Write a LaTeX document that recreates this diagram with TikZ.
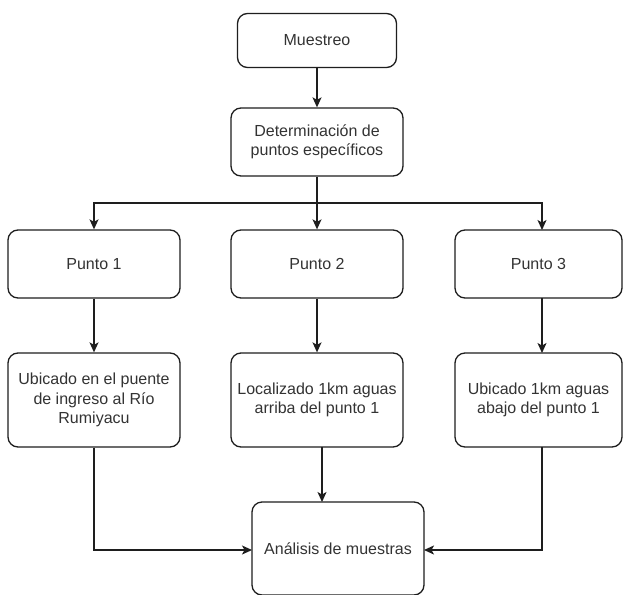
\documentclass[tikz,border=0pt]{standalone}
\usepackage{fontspec}
\setmainfont{Liberation Sans}
\usetikzlibrary{arrows.meta}
\definecolor{ln}{HTML}{1E1E1E}
\definecolor{tx}{HTML}{333333}
\begin{document}
\begin{tikzpicture}[x=1pt,y=1pt,
  box/.style={draw=ln, line width=1.3pt, rounded corners=10pt, rectangle, inner sep=0pt,
    align=center, text=tx, font=\fontsize{16}{19.2}\selectfont},
  arr/.style={draw=ln, line width=1.3pt, -{Stealth[length=10pt,width=9pt,inset=2.5pt]}},
  ln/.style={draw=ln, line width=1.3pt}]
\useasboundingbox (0,0) rectangle (623,-594);
\fill[white] (0,0) rectangle (623,-594);
\node[box, minimum width=159pt, minimum height=54pt] (m) at (317,-40.5) {Muestreo};
\node[box, minimum width=172pt, minimum height=68pt] (d) at (317,-142) {Determinación de\\puntos específicos};
\node[box, minimum width=172pt, minimum height=68pt] (p1) at (94,-264) {Punto 1};
\node[box, minimum width=172pt, minimum height=68pt] (p2) at (317,-264) {Punto 2};
\node[box, minimum width=167pt, minimum height=68pt] (p3) at (538.5,-264) {Punto 3};
\node[box, minimum width=172pt, minimum height=94pt] (u1) at (94,-400) {Ubicado en el puente\\de ingreso al Río\\Rumiyacu};
\node[box, minimum width=172pt, minimum height=94pt] (u2) at (317,-400) {Localizado 1km aguas\\arriba del punto 1};
\node[box, minimum width=167pt, minimum height=94pt] (u3) at (538.5,-400) {Ubicado 1km aguas\\abajo del punto 1};
\node[box, minimum width=172pt, minimum height=93pt] (a) at (338,-548.5) {Análisis de muestras};
\coordinate (j) at (317,-203);
\coordinate (p3t) at (542,-230);
\coordinate (p3b) at (542,-298);
\coordinate (u3t) at (542,-353);
\coordinate (u3b) at (542,-447);
\coordinate (u2b) at (322,-447);
\coordinate (at) at (322,-502);
\coordinate (aw) at (252,-550);
\coordinate (ae) at (424,-550);
\draw[arr] (m) -- (d);
\draw[ln] (d) -- (j);
\draw[arr] (j) -| (p1.north);
\draw[arr] (j) -- (p2);
\draw[arr] (j) -| (p3t);
\draw[arr] (p1) -- (u1);
\draw[arr] (p2) -- (u2);
\draw[arr] (p3b) -- (u3t);
\draw[arr] (u2b) -- (at);
\draw[arr] (u1.south) |- (aw);
\draw[arr] (u3b) |- (ae);
\end{tikzpicture}
\end{document}
